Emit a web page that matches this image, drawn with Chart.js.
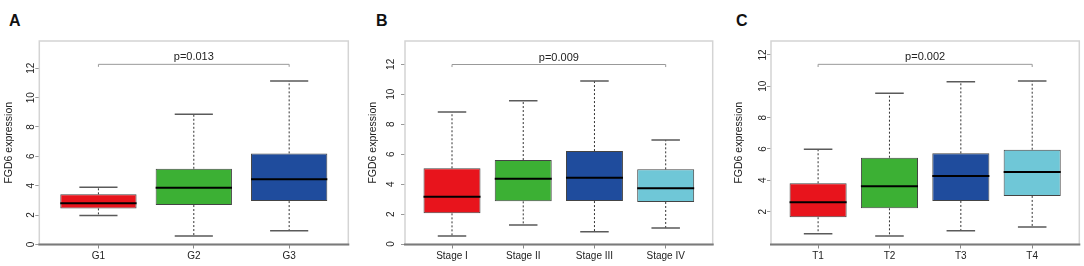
<!DOCTYPE html>
<html>
<head>
<meta charset="utf-8">
<script src="https://cdn.jsdelivr.net/npm/chart.js@4.4.1/dist/chart.umd.min.js"></script>
<style>
  body { margin: 0; background: #fff; width: 1084px; height: 266px; position: relative; overflow: hidden; }
  canvas { position: absolute; top: 0; }
  .tag { position: absolute; top: 13px; font: bold 16px/1 "Liberation Sans", Arial, sans-serif; color: #111; }
</style>
</head>
<body>
<div class="tag" style="left:9px">A</div>
<div class="tag" style="left:376px">B</div>
<div class="tag" style="left:736px">C</div>
<canvas id="chartA" width="360" height="266" style="left:0px"></canvas>
<canvas id="chartB" width="360" height="266" style="left:360px"></canvas>
<canvas id="chartC" width="364" height="266" style="left:720px"></canvas>
<script>
// panel A - grade
const gradeLabels = ['G1', 'G2', 'G3'];
const gradeQ1 = [2.45, 2.68, 2.95];
const gradeMedian = [2.8, 3.86, 4.43];
const gradeQ3 = [3.41, 5.15, 6.2];
const gradeLow = [1.97, 0.57, 0.93];
const gradeHigh = [3.89, 8.86, 11.13];
const gradeTicks = [0, 2, 4, 6, 8, 10, 12];
const gradeP = 'p=0.013';
const gradeBracket = [12.27, 12.1];

// panel B - stage
const stageLabels = ['Stage I', 'Stage II', 'Stage III', 'Stage IV'];
const stageQ1 = [2.05, 2.85, 2.87, 2.81];
const stageMedian = [3.16, 4.36, 4.43, 3.72];
const stageQ3 = [5.06, 5.61, 6.21, 4.99];
const stageLow = [0.53, 1.27, 0.82, 1.07];
const stageHigh = [8.82, 9.57, 10.89, 6.95];
const stageTicks = [0, 2, 4, 6, 8, 10, 12];
const stageP = 'p=0.009';
const stageBracket = [11.99, 11.82];

// panel C - T stage
const tLabels = ['T1', 'T2', 'T3', 'T4'];
const tQ1 = [1.64, 2.21, 2.68, 3.0];
const tMedian = [2.6, 3.62, 4.28, 4.53];
const tQ3 = [3.81, 5.44, 5.72, 5.95];
const tLow = [0.59, 0.45, 0.78, 1.02];
const tHigh = [5.98, 9.55, 10.29, 10.34];
const tTicks = [2, 4, 6, 8, 10, 12];
const tP = 'p=0.002';
const tBracket = [11.4, 11.23];

const boxColors = ['#e8141c', '#3cb034', '#1f4c9d', '#6fc7d7'];
const FONT = '"Liberation Sans", Arial, sans-serif';
Chart.defaults.font.family = FONT;
Chart.defaults.color = '#222';

// whiskers, medians, frame, p-value bracket and rotated y labels
const boxExtras = {
  id: 'boxExtras',
  afterDatasetsDraw(chart, args, o) {
    const { ctx, chartArea: a, scales: { x, y } } = chart;
    const unit = x.getPixelForValue(2) - x.getPixelForValue(1);
    const boxHalf = unit * 0.4, capHalf = unit * 0.2;
    ctx.save();
    o.labels.forEach((lab, i) => {
      const xp = x.getPixelForValue(i + 1);
      ctx.strokeStyle = '#333';
      ctx.lineWidth = 1;
      ctx.setLineDash([2, 2]);
      ctx.beginPath();
      ctx.moveTo(xp, y.getPixelForValue(o.q3[i]));
      ctx.lineTo(xp, y.getPixelForValue(o.high[i]));
      ctx.moveTo(xp, y.getPixelForValue(o.q1[i]));
      ctx.lineTo(xp, y.getPixelForValue(o.low[i]));
      ctx.stroke();
      ctx.setLineDash([]);
      ctx.strokeStyle = '#5a5a5a';
      ctx.lineWidth = 1.5;
      ctx.beginPath();
      [o.high[i], o.low[i]].forEach(v => {
        const yp = y.getPixelForValue(v);
        ctx.moveTo(xp - capHalf, yp);
        ctx.lineTo(xp + capHalf, yp);
      });
      ctx.stroke();
      ctx.strokeStyle = '#000';
      ctx.lineWidth = 2;
      ctx.beginPath();
      const ym = y.getPixelForValue(o.median[i]);
      ctx.moveTo(xp - boxHalf, ym);
      ctx.lineTo(xp + boxHalf, ym);
      ctx.stroke();
    });

    // bracket
    const x1 = x.getPixelForValue(1), x2 = x.getPixelForValue(o.labels.length);
    const yb = y.getPixelForValue(o.bracket[0]), ye = y.getPixelForValue(o.bracket[1]);
    ctx.strokeStyle = '#999';
    ctx.lineWidth = 1;
    ctx.beginPath();
    ctx.moveTo(x1, ye);
    ctx.lineTo(x1, yb);
    ctx.lineTo(x2, yb);
    ctx.lineTo(x2, ye);
    ctx.stroke();
    ctx.fillStyle = '#222';
    ctx.font = '11px ' + FONT;
    ctx.textAlign = 'center';
    ctx.textBaseline = 'middle';
    ctx.fillText(o.p, (x1 + x2) / 2, yb - 7);

    // frame
    ctx.strokeStyle = '#d4d4d4';
    ctx.lineWidth = 1.5;
    ctx.strokeRect(a.left, a.top, a.right - a.left, a.bottom - a.top);
    ctx.strokeStyle = '#7a7a7a';
    ctx.lineWidth = 2;
    ctx.beginPath();
    ctx.moveTo(a.left - 1, a.bottom);
    ctx.lineTo(a.right + 1, a.bottom);
    ctx.stroke();

    // y tick labels, rotated like R
    ctx.font = '10px ' + FONT;
    y.ticks.forEach(t => {
      ctx.save();
      ctx.translate(a.left - o.labelGap, y.getPixelForValue(t.value));
      ctx.rotate(-Math.PI / 2);
      ctx.fillText(String(t.value), 0, 0);
      ctx.restore();
    });
    ctx.restore();
  }
};

function makePanel(id, p) {
  const n = p.labels.length;
  new Chart(document.getElementById(id), {
    type: 'bar',
    data: {
      datasets: [{
        data: p.labels.map((c, i) => ({ x: i + 1, y: [p.q1[i], p.q3[i]] })),
        backgroundColor: boxColors.slice(0, n),
        borderColor: '#444',
        borderWidth: 1,
        borderSkipped: false,
        barPercentage: 0.8,
        categoryPercentage: 1
      }]
    },
    options: {
      responsive: false,
      animation: false,
      layout: { padding: { left: 0, top: 41, right: p.padRight, bottom: 3.5 } },
      plugins: {
        legend: { display: false },
        tooltip: { enabled: false },
        boxExtras: p
      },
      scales: {
        x: {
          type: 'linear',
          min: 0.5 - 0.04 * n,
          max: n + 0.5 + 0.04 * n,
          offset: false,
          afterBuildTicks: s => { s.ticks = p.labels.map((c, i) => ({ value: i + 1 })); },
          afterFit: s => { s.height = 18; },
          border: { display: false },
          grid: { drawOnChartArea: false, drawTicks: true, tickLength: 4, color: '#888', offset: false },
          ticks: {
            callback: (v, i) => p.labels[i],
            autoSkip: false, maxRotation: 0, minRotation: 0,
            font: { size: 10 }, color: '#222', padding: 2
          }
        },
        y: {
          min: p.yMin,
          max: p.yMax,
          afterBuildTicks: s => { s.ticks = p.ticks.map(v => ({ value: v })); },
          afterFit: s => { s.width = p.axisWidth; },
          border: { display: false },
          grid: { drawOnChartArea: false, drawTicks: true, tickLength: 4, color: '#999' },
          ticks: { display: false },
          title: {
            display: true, text: 'FGD6 expression', color: '#222',
            font: { size: 10.5 }, padding: { top: p.titleGap, bottom: 0 }
          }
        }
      }
    },
    plugins: [boxExtras]
  });
}

makePanel('chartA', {
  labels: gradeLabels, q1: gradeQ1, median: gradeMedian, q3: gradeQ3, low: gradeLow, high: gradeHigh,
  ticks: gradeTicks, p: gradeP, bracket: gradeBracket,
  yMin: -0.01, yMax: 13.86, axisWidth: 39.3, padRight: 11.7, titleGap: 2.7, labelGap: 7.6
});
makePanel('chartB', {
  labels: stageLabels, q1: stageQ1, median: stageMedian, q3: stageQ3, low: stageLow, high: stageHigh,
  ticks: stageTicks, p: stageP, bracket: stageBracket,
  yMin: -0.03, yMax: 13.56, axisWidth: 45, padRight: 7.3, titleGap: 6.7, labelGap: 13.3
});
makePanel('chartC', {
  labels: tLabels, q1: tQ1, median: tMedian, q3: tQ3, low: tLow, high: tHigh,
  ticks: tTicks, p: tP, bracket: tBracket,
  yMin: -0.1, yMax: 12.89, axisWidth: 51, padRight: 4.7, titleGap: 12.7, labelGap: 7.5
});
</script>
</body>
</html>
